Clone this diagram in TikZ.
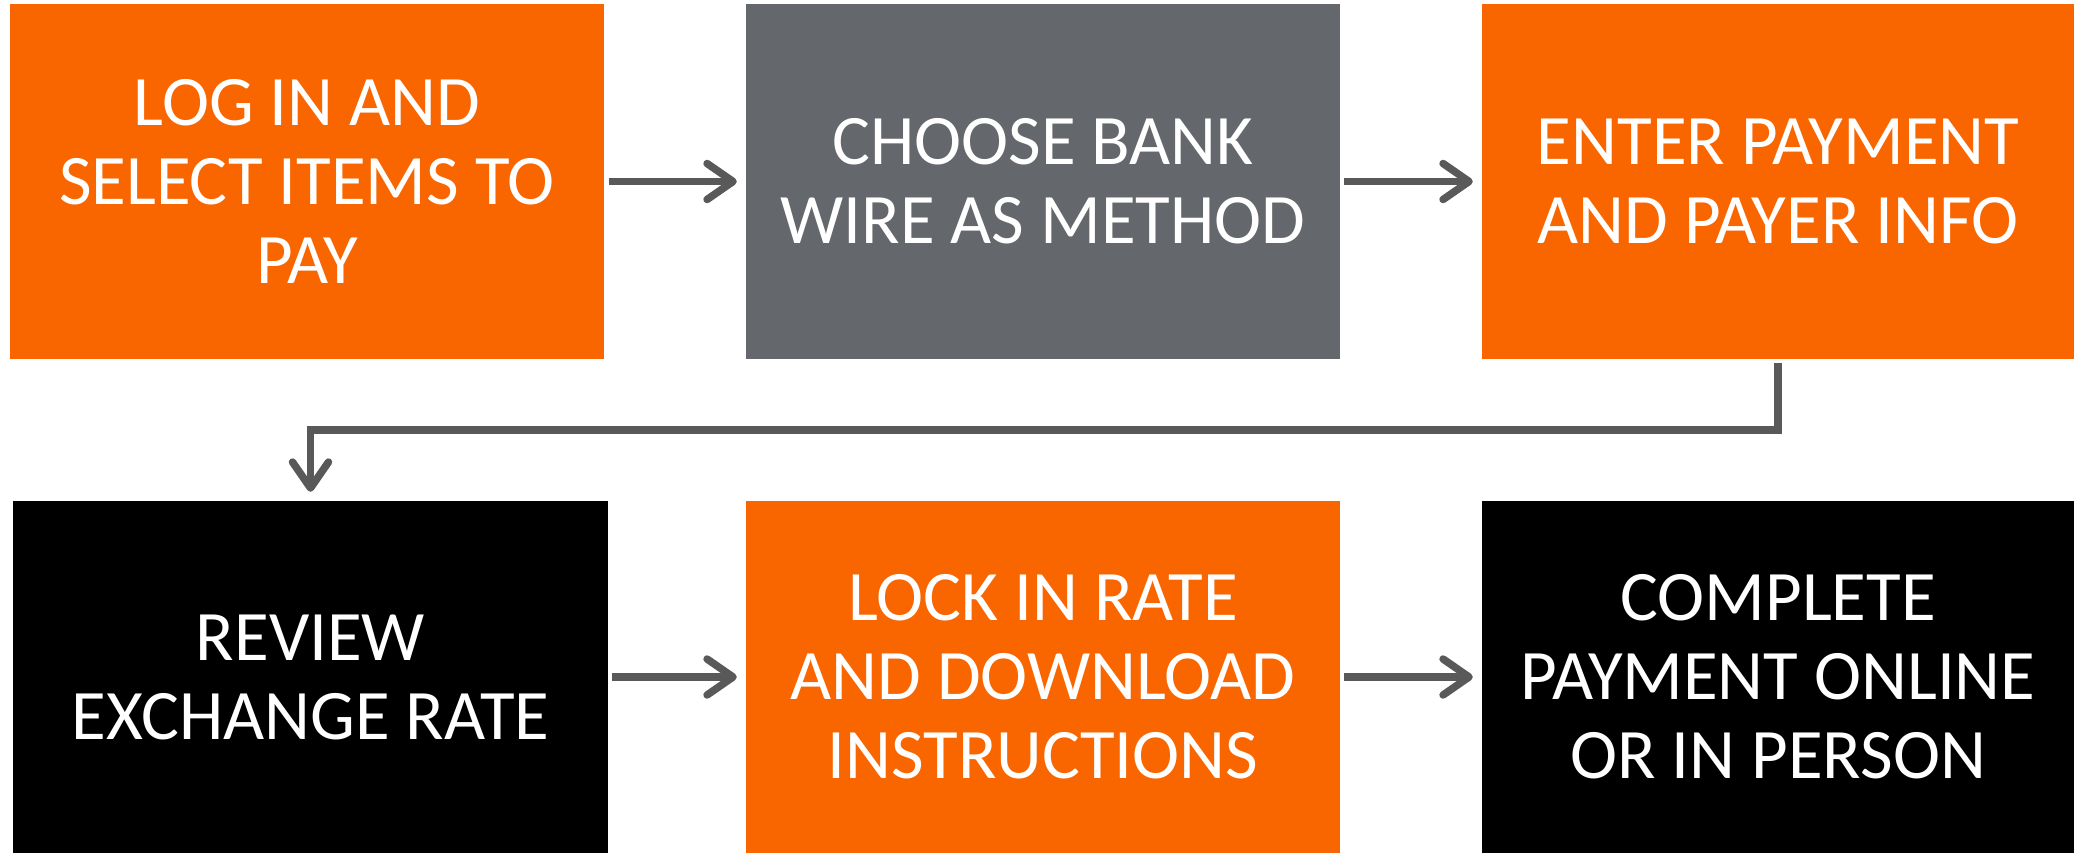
\documentclass[tikz,border=0pt]{standalone}
\usepackage{fontspec}
\setmainfont{Carlito}
\usetikzlibrary{arrows.meta}
\definecolor{orng}{RGB}{249,102,0}
\definecolor{gbox}{RGB}{100,103,107}
\definecolor{agray}{RGB}{89,89,89}
\tikzset{
  stepbox/.style={inner sep=0pt, text=white, align=center,
    font=\fontsize{71bp}{79bp}\selectfont},
  arr/.style={draw=agray, line width=7.5bp,
    -{Straight Barb[length=26bp, width=36bp, round]}},
  elbow/.style={arr, line join=miter}
}
\begin{document}
\begin{tikzpicture}[x=1bp, y=-1bp]
\useasboundingbox (0,0) rectangle (2074,853);
\node[stepbox, fill=orng, minimum width=594bp, minimum height=355bp] (b1) at (307,181.5) {LOG IN AND\\SELECT ITEMS TO\\PAY};
\node[stepbox, fill=gbox, minimum width=594bp, minimum height=355bp] (b2) at (1043,181.5) {CHOOSE BANK\\WIRE AS METHOD};
\node[stepbox, fill=orng, minimum width=592bp, minimum height=355bp] (b3) at (1778,181.5) {ENTER PAYMENT\\AND PAYER INFO};
\node[stepbox, fill=black, minimum width=595bp, minimum height=352bp] (b4) at (310.5,677) {REVIEW\\EXCHANGE RATE};
\node[stepbox, fill=orng, minimum width=594bp, minimum height=352bp] (b5) at (1043,677) {LOCK IN RATE\\AND DOWNLOAD\\INSTRUCTIONS};
\node[stepbox, fill=black, minimum width=592bp, minimum height=352bp] (b6) at (1778,677) {COMPLETE\\PAYMENT ONLINE\\OR IN PERSON};
\coordinate (mid) at (0,430);
\draw[arr] ([xshift=5bp]b1.east) -- ([xshift=-9bp]b2.west);
\draw[arr] ([xshift=4bp]b2.east) -- ([xshift=-9bp]b3.west);
\draw[arr] ([xshift=4bp]b4.east) -- ([xshift=-9bp]b5.west);
\draw[arr] ([xshift=4bp]b5.east) -- ([xshift=-9bp]b6.west);
\draw[elbow] ([yshift=-4bp]b3.south) -- (b3.south |- mid) -| ([yshift=9bp]b4.north);
\end{tikzpicture}
\end{document}
